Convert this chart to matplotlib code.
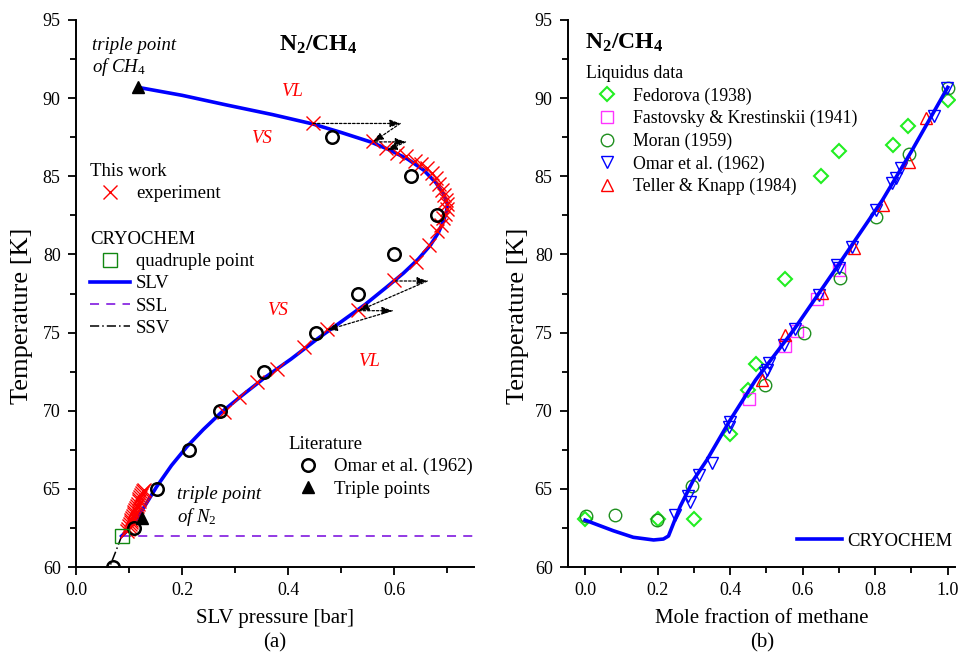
import matplotlib
matplotlib.use("Agg")
import matplotlib.pyplot as plt
from matplotlib.ticker import MultipleLocator, FormatStrFormatter

plt.rcParams['font.family'] = ['Liberation Serif', 'DejaVu Serif']
plt.rcParams['mathtext.fontset'] = 'custom'
plt.rcParams['mathtext.rm'] = 'Liberation Serif'
plt.rcParams['mathtext.it'] = 'Liberation Serif:italic'
plt.rcParams['mathtext.bf'] = 'Liberation Serif:bold'

# ---------------- Panel (a) data ----------------
# CRYOCHEM SLV curve (pressure [bar], T [K])
slv_p = [0.117, 0.20, 0.284, 0.37, 0.446, 0.50, 0.555, 0.59, 0.625, 0.655, 0.678, 0.692, 0.700,
         0.698, 0.692, 0.683, 0.668, 0.645, 0.617, 0.585, 0.545, 0.500, 0.455, 0.405, 0.355,
         0.310, 0.274, 0.240, 0.209, 0.180, 0.152, 0.135, 0.121, 0.105, 0.093, 0.086]
slv_T = [90.69, 90.18, 89.56, 88.95, 88.35, 87.80, 87.20, 86.70, 86.10, 85.40, 84.60, 83.90, 83.20,
         82.70, 82.10, 81.40, 80.60, 79.70, 78.80, 77.90, 76.80, 75.70, 74.60, 73.30, 72.10,
         70.90, 69.90, 68.80, 67.70, 66.50, 65.14, 64.20, 63.43, 62.70, 62.20, 61.98]
# SSL line
ssl_p = [0.086, 0.80]
ssl_T = [61.98, 61.98]
# SSV line
ssv_p = [0.086, 0.075, 0.061]
ssv_T = [61.98, 61.00, 59.80]
# quadruple point
quad_p = [0.086]
quad_T = [61.98]
# triple points (CH4, N2)
trip_p = [0.117, 0.124]
trip_T = [90.69, 63.15]
# Omar et al. (1962)
omar_p = [0.483, 0.631, 0.681, 0.599, 0.531, 0.452, 0.355, 0.272, 0.212, 0.152, 0.109, 0.070]
omar_T = [87.5, 85.0, 82.5, 80.0, 77.5, 75.0, 72.5, 70.0, 67.5, 65.0, 62.5, 60.0]
# This work, experiment
exp_p = [0.447, 0.559, 0.585, 0.605, 0.622, 0.638, 0.650, 0.662, 0.671, 0.678, 0.684, 0.689,
         0.693, 0.697, 0.700, 0.699, 0.696, 0.692, 0.687, 0.680,
         0.666, 0.640, 0.600, 0.531, 0.473, 0.429, 0.379, 0.341, 0.308, 0.278,
         0.096, 0.098, 0.100, 0.101, 0.103, 0.104, 0.106, 0.107, 0.109, 0.110, 0.112,
         0.113, 0.115, 0.116, 0.118, 0.119, 0.121, 0.123, 0.125, 0.127, 0.129]
exp_T = [88.38, 87.25, 86.80, 86.50, 86.30, 86.00, 85.80, 85.50, 85.20, 84.90, 84.50, 84.10,
         83.80, 83.50, 83.20, 82.90, 82.60, 82.30, 81.90, 81.50,
         80.60, 79.53, 78.36, 76.42, 75.20, 74.10, 72.70, 71.86, 70.90, 69.94,
         62.30, 62.45, 62.60, 62.72, 62.85, 63.00, 63.12, 63.25, 63.40, 63.52, 63.65,
         63.80, 63.92, 64.05, 64.20, 64.32, 64.45, 64.60, 64.72, 64.85, 64.95]
# step arrows (start p, start T, end p, end T)
arr_p0 = [0.447, 0.611, 0.564, 0.621, 0.602, 0.662, 0.533, 0.596]
arr_T0 = [88.38, 88.38, 87.20, 87.20, 78.30, 78.30, 76.40, 76.40]
arr_p1 = [0.611, 0.560, 0.621, 0.586, 0.662, 0.533, 0.596, 0.473]
arr_T1 = [88.38, 87.20, 87.20, 86.65, 78.30, 76.40, 76.40, 75.16]

# ---------------- Panel (b) data ----------------
cryo_x = [0.0, 0.078, 0.133, 0.189, 0.216, 0.230, 0.262, 0.299, 0.336, 0.40, 0.470,
          0.575, 0.695, 0.820, 0.90, 1.0]
cryo_T = [63.0, 62.32, 61.90, 61.73, 61.79, 61.98, 63.86, 65.57, 66.85, 69.40, 71.96,
          75.16, 79.21, 83.48, 86.60, 90.69]
fed_x = [0.0, 0.20, 0.30, 0.40, 0.45, 0.47, 0.55, 0.65, 0.70, 0.85, 0.89, 1.0]
fed_T = [63.1, 63.05, 63.05, 68.5, 71.3, 73.0, 78.4, 85.0, 86.6, 87.0, 88.2, 89.9]
fas_x = [0.453, 0.550, 0.585, 0.640, 0.700]
fas_T = [70.75, 74.16, 75.12, 77.15, 79.0]
mor_x = [0.003, 0.083, 0.198, 0.295, 0.497, 0.603, 0.703, 0.801, 0.893, 1.0]
mor_T = [63.28, 63.33, 63.0, 65.2, 71.65, 75.0, 78.51, 82.41, 86.4, 90.67]
om_x = [0.249, 0.285, 0.290, 0.313, 0.350, 0.396, 0.400, 0.497, 0.502, 0.506, 0.548, 0.580,
        0.645, 0.695, 0.700, 0.737, 0.801, 0.847, 0.856, 0.870, 0.962, 0.999]
om_T = [63.33, 64.54, 64.18, 65.89, 66.68, 68.98, 69.30, 72.40, 72.60, 73.03, 74.20, 75.20,
        77.40, 79.32, 79.10, 80.50, 82.84, 84.55, 84.87, 85.50, 88.88, 90.63]
tel_x = [0.488, 0.550, 0.654, 0.741, 0.822, 0.893, 0.939]
tel_T = [71.96, 74.84, 77.55, 80.43, 83.16, 85.93, 88.70]

W, H = 959, 663
fig = plt.figure(figsize=(W / 100, H / 100), dpi=100)
axA = fig.add_axes([76 / W, 1 - 567 / H, 398 / W, 547 / H])
axB = fig.add_axes([568 / W, 1 - 567 / H, 387 / W, 547 / H])

TICK_FS = 13
LAB_FS = 15
YLAB_FS = 19

for ax in (axA, axB):
    for s in ('top', 'right'):
        ax.spines[s].set_visible(False)
    for s in ('left', 'bottom'):
        ax.spines[s].set_linewidth(1.4)
    ax.set_ylim(60, 95)
    ax.yaxis.set_major_locator(MultipleLocator(5))
    ax.yaxis.set_minor_locator(MultipleLocator(2.5))
    ax.xaxis.set_major_locator(MultipleLocator(0.2))
    ax.xaxis.set_minor_locator(MultipleLocator(0.1))
    ax.xaxis.set_major_formatter(FormatStrFormatter('%.1f'))
    ax.tick_params(which='major', direction='out', length=6, width=1.3, labelsize=TICK_FS, pad=5)
    ax.tick_params(which='minor', direction='out', length=4, width=1.3)
    ax.set_ylabel('Temperature [K]', fontsize=YLAB_FS, va='center')

axA.yaxis.set_label_coords((22 - 76) / 398, 0.46)
axB.yaxis.set_label_coords((518 - 568) / 387, 0.46)

# ---- panel (a) ----
axA.set_xlim(0, 0.75)
axA.set_xlabel('SLV pressure [bar]', fontsize=LAB_FS, labelpad=7)

for p0, t0, p1, t1 in zip(arr_p0, arr_T0, arr_p1, arr_T1):
    axA.annotate('', xy=(p1, t1), xytext=(p0, t0),
                 arrowprops=dict(arrowstyle='-|>,head_length=0.6,head_width=0.22',
                                 linestyle=(0, (2, 1.5)), color='black', lw=0.9,
                                 shrinkA=0, shrinkB=0))

l_ssl, = axA.plot(ssl_p, ssl_T, color='#8a2be2', ls=(0, (5, 4)), lw=1.3, label='SSL')
l_ssv, = axA.plot(ssv_p, ssv_T, color='black', ls=(0, (6, 2, 1, 2)), lw=1.1, label='SSV')
l_slv, = axA.plot(slv_p, slv_T, color='#0000ff', lw=2.6, label='SLV')
l_exp, = axA.plot(exp_p, exp_T, ls='none', marker='x', ms=10, mew=1.0, color='#ff0000',
                  label='experiment')
l_om, = axA.plot(omar_p, omar_T, ls='none', marker='o', ms=9, mfc='none', mec='black',
                 mew=1.8, label='Omar et al. (1962)')
l_tp, = axA.plot(trip_p, trip_T, ls='none', marker='^', ms=8, color='black', label='Triple points')
l_q, = axA.plot(quad_p, quad_T, ls='none', marker='s', ms=10, mfc='none', mec='#118811',
                mew=1.0, label='quadruple point')

axA.text(0.608, 0.954, r'$\mathbf{N_2/CH_4}$', transform=axA.transAxes, fontsize=17,
         ha='center', va='center')
axA.text(0.030, 93.4, 'triple point', fontsize=13.5, style='italic', va='center')
axA.text(0.030, 92.0, r'of CH$_4$', fontsize=13.5, style='italic', va='center')
axA.text(0.190, 64.65, 'triple point', fontsize=13.5, style='italic', va='center')
axA.text(0.190, 63.22, r'of N$_2$', fontsize=13.5, style='italic', va='center')
for s, p, t in [('VL', 0.407, 90.41), ('VS', 0.350, 87.43), ('VS', 0.379, 76.44), ('VL', 0.552, 73.18)]:
    axA.text(p, t, s, color='#ff0000', fontsize=13.5, style='italic', ha='center', va='center')

LEG_FS = 13.5
legkw = dict(frameon=False, fontsize=LEG_FS, title_fontsize=LEG_FS, handlelength=2.15,
             handletextpad=0.3, borderpad=0, borderaxespad=0, labelspacing=0.27,
             alignment='left', loc='upper left')


def xa(px):
    return (px - 76) / 398


def ya(py):
    return (567 - py) / 547


leg1 = axA.legend(handles=[l_exp], title='This work', bbox_to_anchor=(xa(90), ya(163)), **legkw)
axA.add_artist(leg1)
leg2 = axA.legend(handles=[l_q, l_slv, l_ssl, l_ssv], title='CRYOCHEM',
                  bbox_to_anchor=(xa(90), ya(231)), **legkw)
axA.add_artist(leg2)
leg3 = axA.legend(handles=[l_om, l_tp], title='Literature',
                  bbox_to_anchor=(xa(288), ya(436)), **legkw)

# ---- panel (b) ----
axB.set_xlim(-0.047, 1.02)
axB.set_xlabel('Mole fraction of methane', fontsize=LAB_FS, labelpad=7)

ms_b = 8
b_fed, = axB.plot(fed_x, fed_T, ls='none', marker='D', ms=7, mfc='none', mec='#22ee22', mew=1.5,
                  label='Fedorova (1938)')
b_fas, = axB.plot(fas_x, fas_T, ls='none', marker='s', ms=ms_b, mfc='none', mec='#ff33ff', mew=1.0,
                  label='Fastovsky & Krestinskii (1941)')
b_mor, = axB.plot(mor_x, mor_T, ls='none', marker='o', ms=ms_b + 1, mfc='none', mec='#1f8f1f', mew=1.0,
                  label='Moran (1959)')
b_om, = axB.plot(om_x, om_T, ls='none', marker='v', ms=ms_b + 1, mfc='none', mec='#0000ff', mew=1.0,
                 label='Omar et al. (1962)')
b_tel, = axB.plot(tel_x, tel_T, ls='none', marker='^', ms=ms_b + 1, mfc='none', mec='#ff0000', mew=1.0,
                  label='Teller & Knapp (1984)')
b_cry, = axB.plot(cryo_x, cryo_T, color='#0000ff', lw=2.6, label='CRYOCHEM')

axB.text(0.044, 0.958, r'$\mathbf{N_2/CH_4}$', transform=axB.transAxes, fontsize=17,
         ha='left', va='center')


def xb(px):
    return (px - 568) / 387


legkwB = dict(legkw)
legkwB.update(fontsize=12.8, title_fontsize=12.8, handlelength=2.4, handletextpad=0.25,
              labelspacing=0.3)
legB1 = axB.legend(handles=[b_fed, b_fas, b_mor, b_om, b_tel], title='Liquidus data',
                   bbox_to_anchor=(xb(586), ya(65)), **legkwB)
axB.add_artist(legB1)
legkwC = dict(legkwB)
legkwC.update(loc='lower right', fontsize=13.5)
legB2 = axB.legend(handles=[b_cry], bbox_to_anchor=(xb(952), ya(550)), **legkwC)

fig.text(275 / W, 1 - 643 / H, '(a)', fontsize=LAB_FS, ha='center', va='center')
fig.text(762 / W, 1 - 643 / H, '(b)', fontsize=LAB_FS, ha='center', va='center')

fig.savefig('out.png', dpi=100)
